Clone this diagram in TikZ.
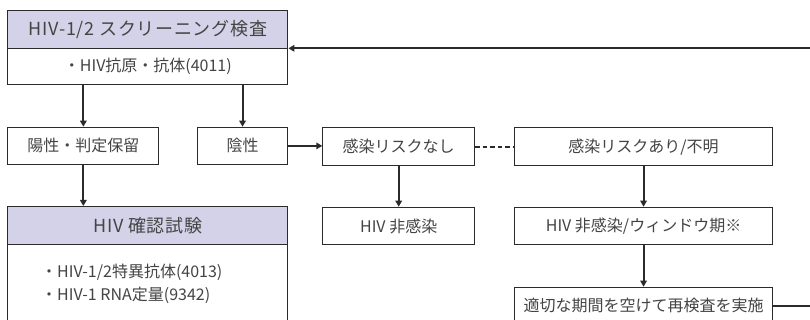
\documentclass[tikz,border=0pt]{standalone}
\usepackage{fontspec}
\setmainfont{Noto Sans CJK JP}
\newfontfamily\hdrfont[LetterSpace=4]{Noto Sans CJK JP}
\usetikzlibrary{arrows.meta}
\definecolor{hdr}{HTML}{D4D2E8}
\definecolor{ink}{HTML}{444444}
\definecolor{ln}{HTML}{2B2B2B}
\tikzset{
  box/.style={draw=ln, line width=1.1pt, fill=white, rectangle, anchor=north west, inner sep=0pt, text=ink, font=\fontsize{16}{19}\selectfont},
  hbox/.style={box, fill=hdr, font=\hdrfont\fontsize{18}{21}\selectfont},
  arr/.style={draw=ln, line width=2pt, -{Triangle[length=6pt,width=6.5pt]}},
  dline/.style={draw=ln, line width=1.8pt, dash pattern=on 4.5pt off 3pt},
  txt/.style={anchor=west, inner sep=0pt, text=ink, font=\fontsize{16}{19}\selectfont}
}
\begin{document}
\begin{tikzpicture}[x=1pt, y=-1pt]
\useasboundingbox (0,0) rectangle (810,320);
\clip (0,0) rectangle (810,320);
\fill[white] (0,0) rectangle (810,320);
% screening
\node[hbox, minimum width=280pt, minimum height=38.3pt] (scrH) at (7.3,10) {HIV-1/2 スクリーニング検査};
\node[box, minimum width=280pt, minimum height=35.7pt] (scrB) at (7.3,48.3) {・HIV抗原・抗体(4011)};
% results
\node[box, minimum width=151pt, minimum height=37.3pt] (pos) at (7.3,126.7) {陽性・判定保留};
\node[box, minimum width=90.6pt, minimum height=37.3pt] (neg) at (196.7,126.7) {陰性};
% confirmation
\node[hbox, minimum width=280pt, minimum height=38pt] (confH) at (7.3,206) {HIV 確認試験};
\node[box, minimum width=280pt, minimum height=100pt] (confB) at (7.3,244) {};
\node[txt] (conf1) at (41,272.7) {・HIV-1/2特異抗体(4013)};
\node[txt] (conf2) at (41,295) {・HIV-1 RNA定量(9342)};
% risk
\node[box, minimum width=151.7pt, minimum height=37.7pt] (norisk) at (322.3,127.3) {感染リスクなし};
\node[box, minimum width=257.4pt, minimum height=37.7pt] (risk) at (514.3,127.3) {感染リスクあり/不明};
\node[box, minimum width=151.7pt, minimum height=37.6pt] (noninf) at (322.3,206.7) {HIV 非感染};
\node[box, minimum width=257.4pt, minimum height=37.6pt] (window) at (514.3,206.7) {HIV 非感染/ウィンドウ期※};
\node[box, minimum width=257.4pt, minimum height=60pt] (recheck) at (514.3,286.7) {};
\node[txt, anchor=center] (rechecktxt) at ([yshift=-19pt]recheck.north) {適切な期間を空けて再検査を実施};
\coordinate (loopc) at (818,305.7);
% connectors
\draw[arr] (pos.north |- scrB.south) -- (pos.north);
\draw[arr] (neg.north |- scrB.south) -- (neg.north);
\draw[arr] (pos.south) -- (pos.south |- confH.north);
\draw[arr] (neg.east) -- (neg.east -| norisk.west);
\draw[dline] (norisk.east) -- (risk.west);
\draw[arr] (norisk.south) -- (noninf.north);
\draw[arr] (risk.south) -- (window.north);
\draw[arr] (window.south) -- (recheck.north);
\draw[arr] (recheck.east |- loopc) -- (loopc) |- (scrB.north east);
\end{tikzpicture}
\end{document}
